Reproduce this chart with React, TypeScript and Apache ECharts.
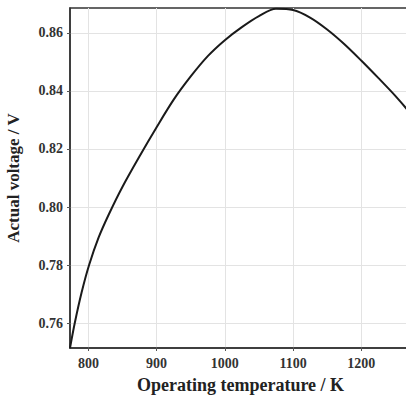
import React, { useEffect, useRef } from "react";
import * as echarts from "echarts";

const temperatures = [773, 780, 790, 801, 815, 830, 850, 875, 900, 925, 950, 975, 1000, 1025, 1050, 1075, 1100, 1125, 1150, 1175, 1200, 1225, 1250, 1273];
const voltages = [0.7514, 0.76, 0.7705, 0.78, 0.7895, 0.7975, 0.807, 0.8175, 0.8275, 0.837, 0.845, 0.852, 0.8575, 0.862, 0.8658, 0.8683, 0.8679, 0.8653, 0.8612, 0.8562, 0.8505, 0.8445, 0.8383, 0.832];
const xTicks = [800, 900, 1000, 1100, 1200];
const yTicks = [0.76, 0.78, 0.8, 0.82, 0.84, 0.86];

export default function App() {
  const ref = useRef<HTMLDivElement>(null);
  useEffect(() => {
    if (!ref.current) return;
    const chart = echarts.init(ref.current, null, { renderer: "svg" });
    const font = "'Liberation Serif', 'Times New Roman', serif";
    chart.setOption({
      animation: false,
      grid: {
        left: 70,
        top: 8,
        right: -5,
        bottom: 47,
        show: true,
        borderColor: "#333",
        borderWidth: 1.5,
        outerBoundsMode: "none",
        containLabel: false,
      },
      xAxis: {
        type: "value",
        min: 773,
        max: 1273,
        name: "Operating temperature / K",
        nameLocation: "middle",
        nameGap: 28,
        nameTextStyle: { fontFamily: font, fontWeight: "bold", fontSize: 18, color: "#222" },
        axisLine: { show: true, onZero: false, lineStyle: { color: "#333", width: 1.5 } },
        axisTick: { show: true, length: 3, customValues: xTicks, lineStyle: { color: "#555" } },
        axisLabel: {
          customValues: xTicks,
          fontFamily: font,
          fontWeight: "bold",
          fontSize: 14,
          color: "#333",
          margin: 8,
          formatter: (v: number) => String(v),
        },
        splitLine: { show: true, lineStyle: { color: "#e3e3e3", width: 1 } },
      },
      yAxis: {
        type: "value",
        min: 0.7514,
        max: 0.8686,
        name: "Actual voltage / V",
        nameLocation: "middle",
        nameGap: 48,
        nameTextStyle: { fontFamily: font, fontWeight: "bold", fontSize: 17, color: "#222" },
        axisLine: { show: true, onZero: false, lineStyle: { color: "#333", width: 1.5 } },
        axisTick: { show: true, length: 3, customValues: yTicks, lineStyle: { color: "#555" } },
        axisLabel: {
          customValues: yTicks,
          fontFamily: font,
          fontWeight: "bold",
          fontSize: 14,
          color: "#333",
          margin: 7,
          formatter: (v: number) => v.toFixed(2),
        },
        splitLine: { show: true, lineStyle: { color: "#e3e3e3", width: 1 } },
      },
      series: [
        {
          type: "line",
          data: temperatures.map((t, i) => [t, voltages[i]]),
          smooth: 0.3,
          showSymbol: false,
          lineStyle: { color: "#1a1a1a", width: 2 },
        },
      ],
    });
    return () => chart.dispose();
  }, []);
  return <div ref={ref} style={{ width: 406, height: 395, position: "absolute", left: 0, top: 0 }} />;
}
